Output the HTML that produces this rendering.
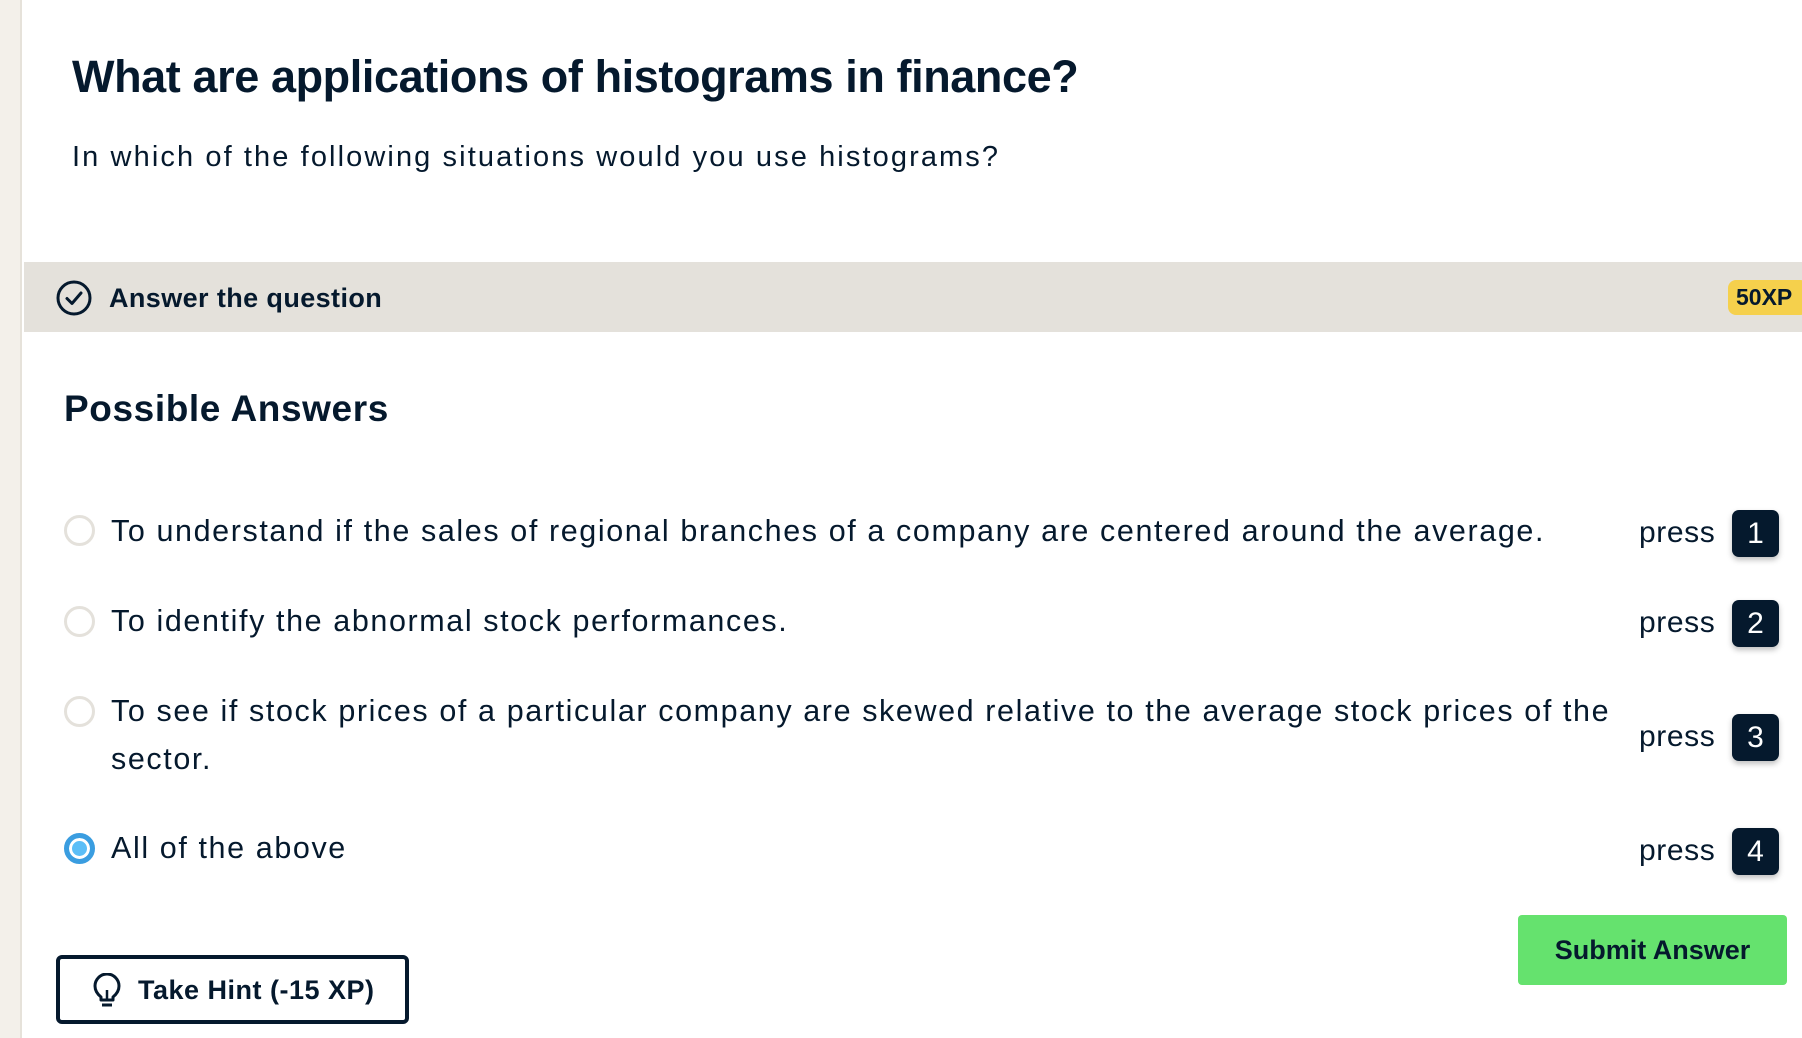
<!DOCTYPE html>
<html><head><meta charset="utf-8"><style>
*{margin:0;padding:0;box-sizing:border-box}
body{width:1802px;height:1038px;overflow:hidden;background:#fff;font-family:"Liberation Sans",sans-serif;color:#05192d;position:relative}
.abs{position:absolute}
.side{left:0;top:0;width:22px;height:1038px;background:#f3f0ea;border-right:2px solid #e6e2da}
h1{position:absolute;left:72px;top:51px;font-size:45px;font-weight:bold;letter-spacing:-0.4px;white-space:nowrap}
.sub{left:72px;top:141px;font-size:29px;letter-spacing:2.1px;white-space:nowrap}
.band{left:24px;top:262px;width:1778px;height:70px;background:#e4e1db}
.opt{left:111px;font-size:30.5px;letter-spacing:1.6px;line-height:48px;white-space:nowrap}
.radio{left:64px;width:31px;height:31px;border-radius:50%;border:3px solid #e4e1db;background:#fff}
.press{left:1639px;font-size:30px;letter-spacing:0.6px;white-space:nowrap}
.key{left:1732px;width:47px;height:47px;background:#05192d;color:#fff;border-radius:7px;font-size:30px;text-align:center;line-height:47px;box-shadow:0 3px 6px rgba(0,0,0,.25)}
</style></head><body>
<div class="abs side"></div>
<h1>What are applications of histograms in finance?</h1>
<div class="abs sub">In which of the following situations would you use histograms?</div>
<div class="abs band">
  <svg class="abs" style="left:31px;top:17px" width="38" height="38"><circle cx="19" cy="19" r="16" fill="none" stroke="#05192d" stroke-width="3"/><path d="M12 19.5 L17 24.5 L26 14" fill="none" stroke="#05192d" stroke-width="3" stroke-linecap="round" stroke-linejoin="round"/></svg>
  <div class="abs" style="left:85px;top:21px;font-size:27px;font-weight:bold;letter-spacing:0.4px;white-space:nowrap">Answer the question</div>
  <div class="abs" style="left:1704px;top:18px;width:80px;height:35px;background:#f5d04c;border-radius:8px;font-size:23px;font-weight:bold;line-height:35px;padding-left:8px">50XP</div>
</div>
<div class="abs" style="left:64px;top:388px;font-size:37px;font-weight:bold;letter-spacing:0.6px;white-space:nowrap">Possible Answers</div>

<div class="abs radio" style="top:515px"></div>
<div class="abs opt" style="top:507px">To understand if the sales of regional branches of a company are centered around the average.</div>
<div class="abs press" style="top:516px">press</div>
<div class="abs key" style="top:510px">1</div>

<div class="abs radio" style="top:606px"></div>
<div class="abs opt" style="top:597px">To identify the abnormal stock performances.</div>
<div class="abs press" style="top:606px">press</div>
<div class="abs key" style="top:600px">2</div>

<div class="abs radio" style="top:696px"></div>
<div class="abs opt" style="top:687px">To see if stock prices of a particular company are skewed relative to the average stock prices of the<br>sector.</div>
<div class="abs press" style="top:720px">press</div>
<div class="abs key" style="top:714px">3</div>

<div class="abs radio" style="top:833px;border:5px solid #3a9de0;background:#5bbef7;box-shadow:inset 0 0 0 3px #fff"></div>
<div class="abs opt" style="top:824px">All of the above</div>
<div class="abs press" style="top:834px">press</div>
<div class="abs key" style="top:828px">4</div>

<div class="abs" style="left:1518px;top:915px;width:269px;height:70px;background:#65e26e;border-radius:4px;font-size:27px;font-weight:bold;text-align:center;line-height:70px">Submit Answer</div>
<div class="abs" style="left:56px;top:955px;width:353px;height:69px;border:4px solid #05192d;border-radius:6px">
  <svg class="abs" style="left:32px;top:14px" width="30" height="36"><path d="M9 24 C4 20 3 16 3 13 A12 12 0 0 1 27 13 C27 16 26 20 21 24 L21 27 L9 27 Z" fill="none" stroke="#05192d" stroke-width="3" stroke-linejoin="round"/><line x1="10" y1="32" x2="20" y2="32" stroke="#05192d" stroke-width="3"/><line x1="15" y1="17" x2="15" y2="26" stroke="#05192d" stroke-width="2.5"/></svg>
  <div class="abs" style="left:78px;top:16px;font-size:27px;font-weight:bold;letter-spacing:0.5px;white-space:nowrap">Take Hint (-15 XP)</div>
</div>
</body></html>
